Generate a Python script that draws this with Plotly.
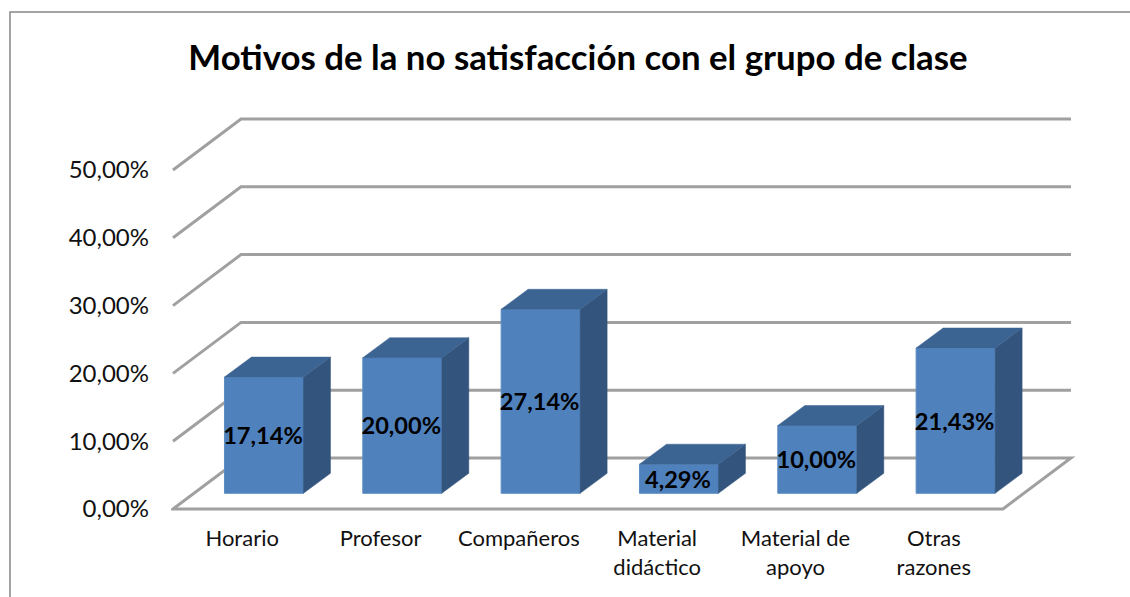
import plotly.graph_objects as go

categories = ["Horario", "Profesor", "Compañeros", "Material<br>didáctico", "Material de<br>apoyo", "Otras<br>razones"]
values = [17.14, 20.00, 27.14, 4.29, 10.00, 21.43]
labels = ["17,14%", "20,00%", "27,14%", "4,29%", "10,00%", "21,43%"]
tick_values = [0, 10, 20, 30, 40, 50]
tick_labels = ["0,00%", "10,00%", "20,00%", "30,00%", "40,00%", "50,00%"]
title = "Motivos de la no satisfacción con el grupo de clase"

W, H = 1130, 597
PX_X = 138.33          # pixels per category
PX_Y = 6.78            # pixels per percentage point
L, R, T, B = 171, 1081, 102, 511   # plot rectangle in pixels
x_range = [-0.5 - (173 - L) / PX_X, -0.5 + (R - 173) / PX_X]
y_range = [-(B - 509) / PX_Y, (509 - T) / PX_Y]

DX = 68 / PX_X         # wall depth in category units
DY = 51 / PX_Y         # wall depth in percent units
BAR_W = 79 / PX_X
BAR_SHIFT = 21.8 / PX_X
BAR_BASE = 15.7 / PX_Y
BDX = 27 / PX_X
BDY = 20 / PX_Y
LABEL_DROP = 3 / PX_Y
LABEL_SHIFT = 20.8 / PX_X

FRONT = "#4F81BD"
TOP = "#3C6492"
SIDE = "#33547C"
GRID = "#A0A0A0"
FONT = "Lato"

fig = go.Figure()

# gridlines: floor + walls
x0, x1 = -0.5, 5.5
shapes = []
for t in tick_values:
    if t == 0:
        path = (f"M {x0},{t} L {x0+DX},{t+DY} L {x1+DX},{t+DY} L {x1},{t} Z")
    else:
        path = f"M {x0},{t} L {x0+DX},{t+DY} L {x1+DX},{t+DY}"
    shapes.append(dict(type="path", path=path, xref="x", yref="y", layer="below",
                       line=dict(color=GRID, width=3)))

# chart frame
def px(p):
    return (p - L) / (R - L)
def py(p):
    return (B - p) / (B - T)
shapes.append(dict(type="path", xref="paper", yref="paper", layer="below",
                   path=f"M {px(10)},{py(H+5)} L {px(10)},{py(12)} L {px(W+5)},{py(12)}",
                   line=dict(color="#868686", width=1.5)))

# front faces
fig.add_trace(go.Bar(
    x=list(range(len(values))), y=values, base=BAR_BASE,
    width=BAR_W, offset=-BAR_W / 2 + BAR_SHIFT,
    marker=dict(color=FRONT, line=dict(color="#5C8CC4", width=1)),
    showlegend=False, hoverinfo="skip"))

# side and top faces
for i, v in enumerate(values):
    a = i - BAR_W / 2 + BAR_SHIFT
    b = a + BAR_W
    low = BAR_BASE
    high = BAR_BASE + v
    fig.add_trace(go.Scatter(
        x=[b, b + BDX, b + BDX, b, b], y=[low, low + BDY, high + BDY, high, low],
        mode="lines", fill="toself", fillcolor=SIDE, line=dict(color=SIDE, width=0.5),
        showlegend=False, hoverinfo="skip"))
    fig.add_trace(go.Scatter(
        x=[a, b, b + BDX, a + BDX, a], y=[high, high, high + BDY, high + BDY, high],
        mode="lines", fill="toself", fillcolor=TOP, line=dict(color=TOP, width=0.5),
        showlegend=False, hoverinfo="skip"))

# data labels
fig.add_trace(go.Scatter(
    x=[i + LABEL_SHIFT for i in range(len(values))],
    y=[BAR_BASE + v / 2 - LABEL_DROP for v in values],
    text=labels, mode="text", textposition="middle center",
    textfont=dict(family=FONT, size=23.6, color="black", weight="bold"),
    showlegend=False, hoverinfo="skip", cliponaxis=False))

fig.update_layout(
    width=W, height=H, autosize=False,
    margin=dict(l=L, r=W - R, t=T, b=H - B, pad=0),
    paper_bgcolor="white", plot_bgcolor="rgba(0,0,0,0)",
    barmode="overlay", showlegend=False, shapes=shapes,
    title=dict(text=title, x=578 / W, xanchor="center", y=1 - 58 / H, yanchor="middle",
               font=dict(family=FONT, size=34.8, color="black", weight="bold")),
    xaxis=dict(range=x_range, tickmode="array", tickvals=list(range(6)), ticktext=categories,
               showgrid=False, zeroline=False, showline=False, ticks="",
               ticklabelstandoff=12, tickfont=dict(family=FONT, size=22, color="#111111")),
    yaxis=dict(range=y_range, tickmode="array", tickvals=tick_values, ticktext=tick_labels,
               showgrid=False, zeroline=False, showline=False, ticks="",
               ticklabelstandoff=21, tickfont=dict(family=FONT, size=24, color="#111111")),
)

fig.write_html("out.html", config={"displayModeBar": False},
               post_script="document.body.style.margin='0';document.body.style.overflow='hidden';")
